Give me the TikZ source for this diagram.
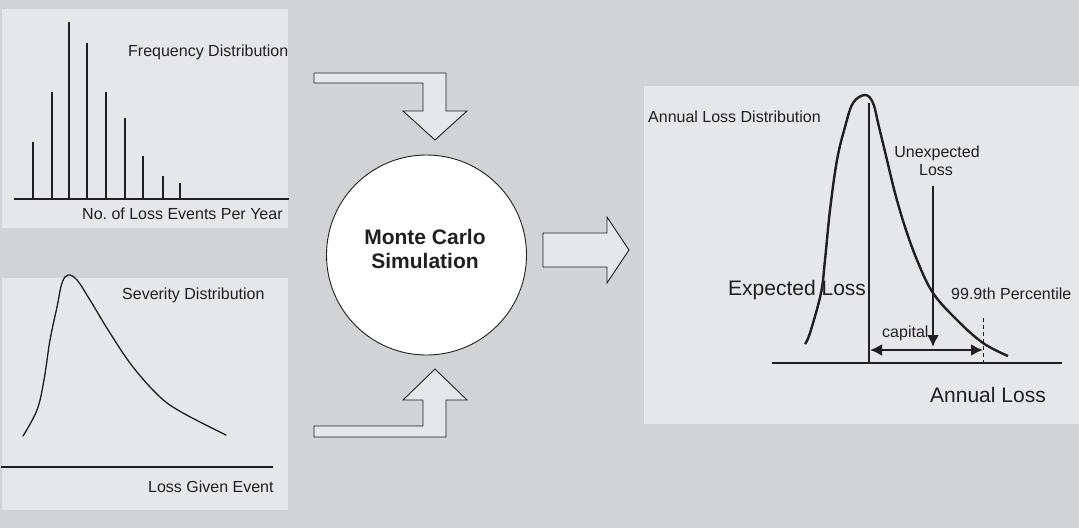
\documentclass[tikz,border=0pt]{standalone}
\usepackage{fontspec}
\setmainfont{Liberation Sans}
\usepackage{xcolor}
\usepackage{tikz}
\usetikzlibrary{arrows.meta}
\definecolor{bggray}{HTML}{D1D3D4}
\definecolor{panelgray}{HTML}{E6E7E8}
\definecolor{ink}{HTML}{231F20}

\begin{document}
\begin{tikzpicture}[x=1pt,y=-1pt]
\tikzset{>={Latex[width=12pt,length=12pt]}}
\tikzstyle{lbl} =[inner sep=0pt,text=ink,font=\fontsize{16}{19}\selectfont]
\tikzstyle{biglbl} =[inner sep=0pt,text=ink,font=\fontsize{21}{25}\selectfont]
\tikzstyle{blockarrow} =[fill=panelgray,draw=ink,line width=0.9pt,line join=miter]
\tikzstyle{curve} =[draw=ink,line width=1.3pt,line join=round,line cap=round]

\useasboundingbox (0,0) rectangle (1079,528);
\fill[bggray] (0,0) rectangle (1079,528);

\fill[panelgray] (2,9) rectangle (288,228);
\fill[panelgray] (2,278) rectangle (288,510);
\fill[panelgray] (644,86) rectangle (1079,424);

\draw[ink,line width=1.4pt] (14,199) -- (289,199);
\foreach \x/\h in {33/142,52/92,69/22,87/43,106/92,125/118,143/156,163/176,180/183}
  \draw[ink,line width=1.7pt] (\x,199) -- (\x,\h);
\node[lbl,anchor=base west](freq) at (128,56){Frequency Distribution};
\node[lbl,anchor=base west](events) at (82,219){No.\ of Loss Events Per Year};

\draw[ink,line width=1.3pt] (1,467) -- (273,467);
\draw[curve] plot[smooth,tension=0.6] coordinates {(23,436) (37,410) (44,380) (50,340) (57,307) (62,283) (68,275) (77,280) (90,300) (110,333) (133,367) (160,397) (183,413) (226,435)};
\node[lbl,anchor=base west](sev) at (122,299){Severity Distribution};
\node[lbl,anchor=base west](lge) at (148,492){Loss Given Event};

\draw[blockarrow] (314,73) -- (446,73) -- (446,111) -- (467,111) -- (435,140) -- (403,111) -- (423,111) -- (423,83) -- (314,83) -- cycle;
\draw[blockarrow] (314,437) -- (446,437) -- (446,400) -- (467,400) -- (435,369) -- (403,400) -- (423,400) -- (423,426) -- (314,426) -- cycle;
\draw[blockarrow] (543,233) -- (607,233) -- (607,217) -- (629,250) -- (607,283) -- (607,267) -- (543,267) -- cycle;

\node[circle,draw=ink,fill=white,line width=0.9pt,minimum size=200pt](mc) at (426.5,255){};
\node[text=ink,inner sep=0pt,align=center,font=\bfseries\fontsize{21}{23.5}\selectfont](mctext) at (425,249){Monte Carlo\\Simulation};

\draw[ink,line width=2.4pt,line join=round] plot[smooth,tension=0.6] coordinates {(805,344) (810,333) (821,293) (825,260) (830,210) (837,160) (845,127) (853,103) (865,95) (873,103) (879,127) (887,160) (895,193) (905,227) (917,260) (933,293) (957,320) (983,343) (1008,356)};
\draw[ink,line width=2.4pt] (869,103) -- (869,363);
\draw[ink,line width=2.4pt] (772,363) -- (1062,363);
\draw[ink,line width=1pt,dash pattern=on 4pt off 3pt] (983,318) -- (983,363);

\coordinate (ultop) at (933,186);
\coordinate (ulbot) at (933,347);
\coordinate (elx) at (870,350);
\coordinate (pctx) at (983,350);
\draw[->,ink,line width=2.2pt] (ultop) -- (ulbot);
\draw[<->,ink,line width=2.2pt] (elx) -- (pctx);

\node[lbl,anchor=base west](ald) at (648,122){Annual Loss Distribution};
\node[lbl,anchor=base](unexp) at (937,157){Unexpected};
\node[lbl,anchor=base](unloss) at (936,175){Loss};
\node[biglbl,anchor=base west](expl) at (728,295.5){Expected Loss};
\node[lbl,anchor=base west](pct) at (951,299){99.9th Percentile};
\node[lbl,anchor=base west](cap) at (882,337){capital};
\node[biglbl,anchor=base west](al) at (930,402){Annual Loss};
\end{tikzpicture}
\end{document}
